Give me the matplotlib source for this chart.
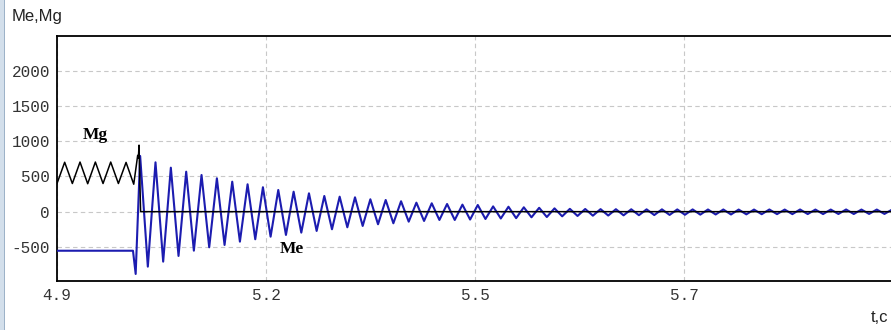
import numpy as np
import matplotlib.pyplot as plt
from matplotlib.patches import Rectangle

# ---- data ----
# Mg before the fault: extrema every half period starting at t=4.9
mg_pre = [400, 702, 400, 705, 397, 705, 400, 705, 400, 700, 390]
# Mg at the fault: spike then drops to zero
mg_fault_t = [5.0081, 5.0090, 5.0099, 5.0120, 6.05]
mg_fault = [800, 760, 945, 0, 0]

# Me before the fault and the first dip
me_pre_t = [4.9, 5.0018, 5.0054]
me_pre = [-555, -555, -885]
# Me after the fault: peaks and troughs of the damped swing
me_peaks = [791, 701, 625, 568, 521, 474, 426, 389, 347, 308,
            284, 261, 223, 213, 204, 176, 166, 148, 128, 119,
            109, 100, 95, 75, 70, 62, 55, 47, 40, 38,
            36, 35, 34, 33, 33, 32, 32, 31, 31, 30,
            30, 31, 30, 31, 30, 30, 31, 30, 30, 30]
me_troughs = [-781, -710, -629, -554, -506, -473, -426, -392, -355, -331,
              -298, -274, -250, -222, -203, -179, -165, -142, -132, -118,
              -118, -112, -104, -97, -92, -80, -76, -66, -61, -57,
              -55, -52, -50, -48, -46, -44, -42, -40, -40, -38,
              -36, -35, -35, -34, -34, -33, -33, -32, -32]
t_first_peak = 5.0114   # s
period = 0.02056        # s, about 48.6 Hz

xticks = [4.9, 5.18, 5.46, 5.74]
yticks = [-500, 0, 500, 1000, 1500, 2000]

# ---- build the polylines ----
half = period / 2
mg_t = list(4.9 + half * np.arange(len(mg_pre))) + mg_fault_t
mg_v = mg_pre + mg_fault

me_osc = []
for i in range(len(me_peaks)):
    me_osc.append(me_peaks[i])
    if i < len(me_troughs):
        me_osc.append(me_troughs[i])
me_osc_t = t_first_peak + half * np.arange(len(me_osc))
me_t = me_pre_t + list(me_osc_t)
me_v = me_pre + me_osc

# ---- figure ----
fig = plt.figure(figsize=(8.91, 3.30), dpi=100)
fig.patch.set_facecolor('white')
fig.patches.append(Rectangle((0, 0), 4.0 / 891, 1, transform=fig.transFigure,
                             facecolor='#d3dfeb', edgecolor='none'))
fig.patches.append(Rectangle((4.0 / 891, 0), 1.2 / 891, 1, transform=fig.transFigure,
                             facecolor='#9db2c8', edgecolor='none'))

ax = fig.add_axes([57 / 891, 49 / 330, 1.02 - 57 / 891, 245.3 / 330])
ax.plot(me_t, me_v, color='#1c1cb0', lw=1.5, zorder=3, solid_joinstyle='round')
ax.plot(mg_t, mg_v, color='black', lw=1.1, zorder=4, solid_joinstyle='round')

ax.set_xlim(4.9, 6.0412)
ax.set_ylim(-985, 2500)
ax.set_xticks(xticks)
ax.set_xticklabels(['%.1f' % v for v in xticks])
ax.set_yticks(yticks)
ax.set_yticklabels([str(v) for v in yticks])
ax.tick_params(length=0, pad=5, labelsize=11.5, labelcolor='#333333')
for lab in ax.get_xticklabels() + ax.get_yticklabels():
    lab.set_family('Liberation Mono')

ax.grid(True, color='#c8c8c8', linestyle=(0, (4, 3)), linewidth=0.8)
ax.set_axisbelow(True)
for s in ['left', 'bottom', 'top']:
    ax.spines[s].set_linewidth(1.3)
    ax.spines[s].set_color('black')
ax.spines['right'].set_visible(False)

ax.text(4.9 + (83 - 57) * 0.0013397, 1000 + (141.3 - 135) / 35.2 * 500, 'Mg',
        family='Liberation Serif', fontweight='bold', fontsize=12.5, va='center')
ax.text(4.9 + (280 - 57) * 0.0013397, -500 + (246.7 - 249) / 35.2 * 500, 'Me',
        family='Liberation Serif', fontweight='bold', fontsize=12.5, va='center')

fig.text(12 / 891, 1 - 17 / 330, 'Me,Mg', family='Liberation Sans', fontsize=12,
         color='#222222', va='center')
fig.text(888 / 891, 1 - 318 / 330, 't,c', family='Liberation Sans', fontsize=12,
         color='#222222', va='center', ha='right')

fig.savefig('out.png', dpi=100)
